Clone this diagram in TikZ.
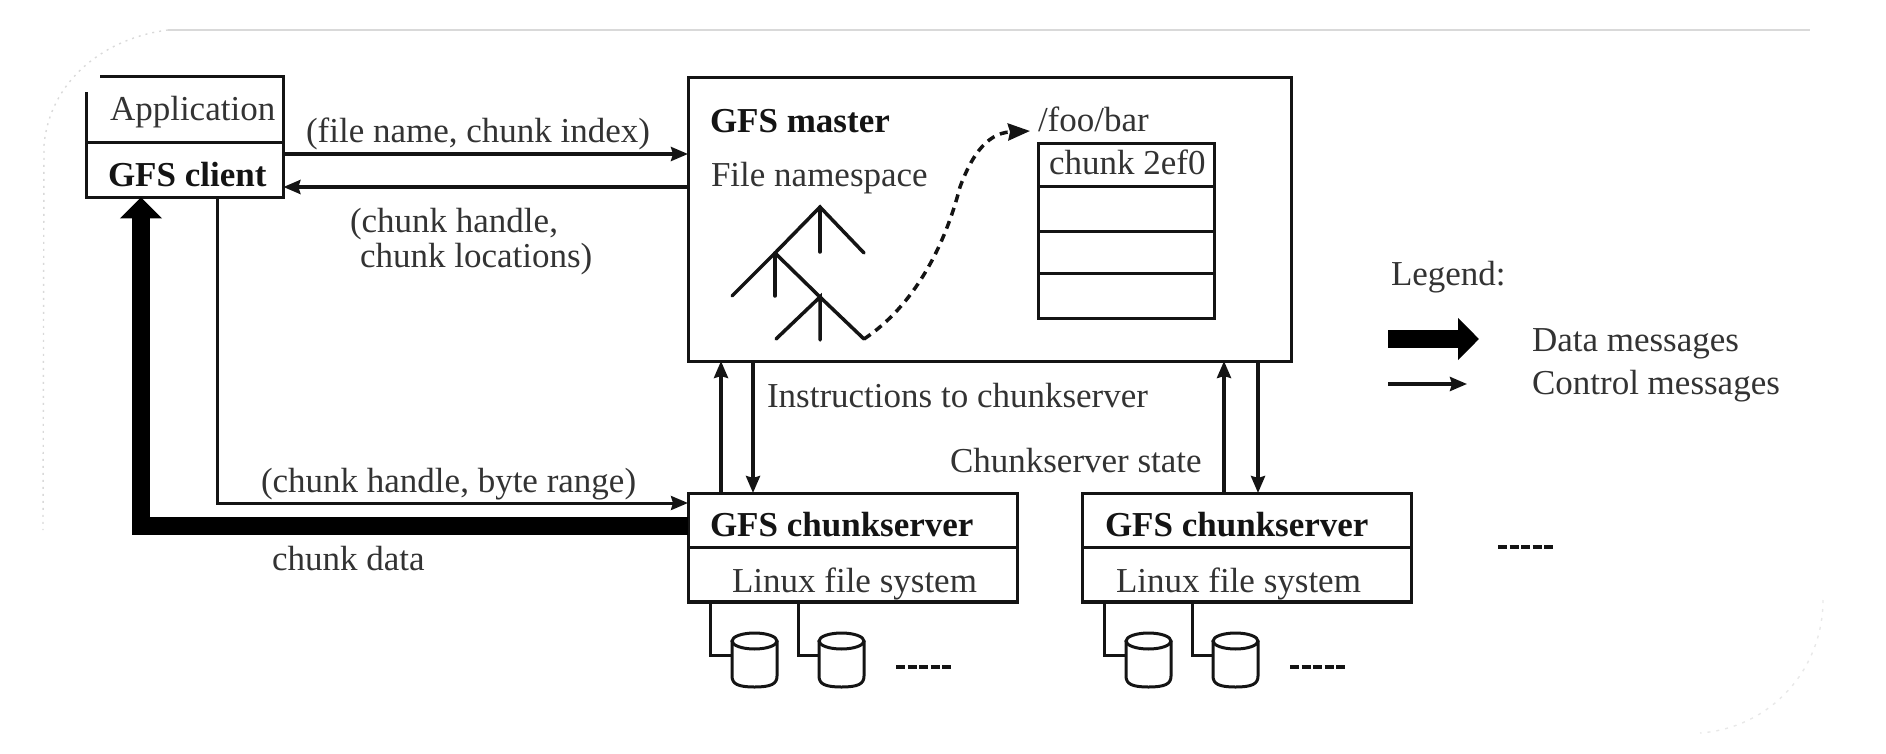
\documentclass[tikz,border=0pt]{standalone}
\usepackage{fontspec}
\setmainfont{Liberation Serif}
\usetikzlibrary{arrows.meta,calc,shapes.geometric}
\definecolor{ink}{gray}{0.08}
\definecolor{txt}{gray}{0.2}
\definecolor{faint}{gray}{0.85}
\definecolor{fainter}{gray}{0.91}
\tikzset{
  lab/.style={anchor=base west,inner sep=0pt,outer sep=0pt,text=txt,font=\fontsize{35}{40}\selectfont},
  blab/.style={lab,text=ink,font=\fontsize{35}{40}\selectfont\bfseries},
  box/.style={draw=ink,line width=3pt,rectangle,anchor=north west,inner sep=0pt,outer sep=0pt},
  ctrl/.style={draw=ink,line width=3.5pt,-{Stealth[length=17pt,width=14pt,inset=2pt]}},
  plain/.style={draw=ink,line width=3pt},
  data/.style={draw=black,line width=18pt,-{Triangle[length=21pt,width=41pt]}},
  tree/.style={draw=ink,line width=3.5pt,line cap=round},
  disk/.style={draw=ink,line width=3pt},
  dots/.style={draw=ink,line width=4pt,dash pattern=on 9pt off 2.5pt}
}
\newcommand{\diskat}[3]{% left x, connector x, name
  \coordinate (#3) at (#1,633);
  \draw[disk,fill=white] (#1,641) -- (#1,676) .. controls (#1,684) and ($(#1,684)+(6,3)$) .. ($(#1,687)+(22.5,0)$)
    .. controls ($(#1,687)+(39,0)$) and ($(#1,684)+(45,0)$) .. ($(#1,676)+(45,0)$) -- ($(#1,641)+(45,0)$);
  \draw[disk,fill=white] ($(#3)+(22.5,8)$) ellipse [x radius=22.5pt,y radius=8pt];
}
\begin{document}
\begin{tikzpicture}[x=1pt,y=-1pt]
\useasboundingbox (0,0) rectangle (1886,754);
% faint frame
\draw[faint,line width=1.2pt] (168,30) -- (1810,30);
\draw[faint,line width=1.4pt,dash pattern=on 2pt off 5pt] (168,30) .. controls (105,38) and (50,80) .. (44,145) -- (43,530);
\draw[fainter,line width=1.4pt,dash pattern=on 3pt off 6pt] (1823,600) .. controls (1823,670) and (1770,728) .. (1700,733);
% nodes
\node[minimum width=197pt,minimum height=120pt,anchor=north west,inner sep=0pt] (client) at (86,77) {};
\node[box,minimum width=603pt,minimum height=283pt] (master) at (688,78) {};
\node[box,minimum width=329pt,minimum height=109pt] (cs1) at (688,493) {};
\node[box,minimum width=329pt,minimum height=109pt] (cs2) at (1082,493) {};
\node[box,minimum width=176pt,minimum height=174pt] (table) at (1038,144) {};
% client outline
\draw[plain] (100,77) -- (client.north east) -- (client.south east) -- (client.south west) -- (86,92);
\draw[plain] (86,143) -- (283,143);
% table rows
\draw[plain] (1038,187) -- (1214,187);
\draw[plain] (1038,231) -- (1214,231);
\draw[plain] (1038,273) -- (1214,273);
% server dividers
\draw[plain] (cs1.west |- 0,547) -- (cs1.east |- 0,547);
\draw[plain] (cs2.west |- 0,547) -- (cs2.east |- 0,547);
\draw[draw=ink,line width=4.5pt] (cs1.south west) -- (cs1.south east);
\draw[draw=ink,line width=4.5pt] (cs2.south west) -- (cs2.south east);
% control arrows
\coordinate (ya) at (0,154); \coordinate (yb) at (0,187); \coordinate (yc) at (0,503); \coordinate (yd) at (0,526);
\coordinate (xa) at (721,0); \coordinate (xb) at (753,0); \coordinate (xc) at (1224,0); \coordinate (xd) at (1258,0);
\coordinate (xe) at (217,0); \coordinate (xf) at (141,0);
\draw[ctrl] (client.east |- ya) -- (master.west |- ya);
\draw[ctrl] (master.west |- yb) -- (client.east |- yb);
\draw[ctrl] (xa |- cs1.north) -- (xa |- master.south);
\draw[ctrl] (xb |- master.south) -- (xb |- cs1.north);
\draw[ctrl] (xc |- cs2.north) -- (xc |- master.south);
\draw[ctrl] (xd |- master.south) -- (xd |- cs2.north);
\draw[draw=ink,line width=3pt,-{Stealth[length=17pt,width=14pt,inset=2pt]}] (xe |- client.south) |- (cs1.west |- yc);
\draw[data] (cs1.west |- yd) -| (xf |- client.south);
% tree
\coordinate (t0) at (820,207); \coordinate (t1) at (775,253); \coordinate (t2) at (820,297); \coordinate (t3) at (864,339);
\draw[tree] (732,296) -- (t1) -- (t0) -- (864,253);
\draw[tree] (t0) -- (820,252);
\draw[tree] (t1) -- (775,296);
\draw[tree] (t1) -- (t2) -- (t3);
\draw[tree] (776,339) -- (t2) -- (820,340);
% dashed curve
\coordinate (foo) at (1030,131);
\draw[draw=ink,line width=3.5pt,dash pattern=on 8pt off 6pt,-{Stealth[length=22pt,width=17pt,inset=2pt]}]
  (t3) .. controls (915,305) and (945,245) .. (960,187) .. controls (970,160) and (985,133) .. (foo);
% legend arrows
\coordinate (l1) at (1388,339); \coordinate (l2) at (1479,339); \coordinate (l3) at (1388,384); \coordinate (l4) at (1467,384);
\draw[data] (l1) -- (l2);
\draw[ctrl] (l3) -- (l4);
% disks
\foreach \cx/\dx/\nm in {710/732/da,798/819/db,1104/1126/dc,1192/1213/dd}{
  \draw[plain] (\cx,602) |- (\dx,655);
  \diskat{\dx}{\cx}{\nm}
}
\draw[dots] (896,667) -- (952,667);
\draw[dots] (1290,667) -- (1347,667);
\draw[dots] (1498,547) -- (1554,547);
% labels
\node[lab] (tapp) at (110,121) {Application};
\node[blab] (tcl) at (108,186) {GFS client};
\node[lab] (tfn) at (306,143) {(file name, chunk index)};
\node[lab] (tch) at (350,233) {(chunk handle,};
\node[lab] (tcl2) at (360,267) {chunk locations)};
\node[blab] (tm) at (710,133) {GFS master};
\node[lab] (tns) at (711,186) {File namespace};
\node[lab] (tfoo) at (1038,132) {/foo/bar};
\node[lab] (tchunk) at (1049,175) {chunk 2ef0};
\node[lab] (tins) at (767,407) {Instructions to chunkserver};
\node[lab] (tst) at (950,472) {Chunkserver state};
\node[lab] (tbr) at (261,492) {(chunk handle, byte range)};
\node[lab] (tcd) at (272,570) {chunk data};
\node[blab] (tcs1) at (710,536) {GFS chunkserver};
\node[blab] (tcs2) at (1105,536) {GFS chunkserver};
\node[lab] (tl1) at (732,592) {Linux file system};
\node[lab] (tl2) at (1116,592) {Linux file system};
\node[lab] (tleg) at (1391,285) {Legend:};
\node[lab] (tdm) at (1532,351) {Data messages};
\node[lab] (tcm) at (1532,394) {Control messages};
\end{tikzpicture}
\end{document}
